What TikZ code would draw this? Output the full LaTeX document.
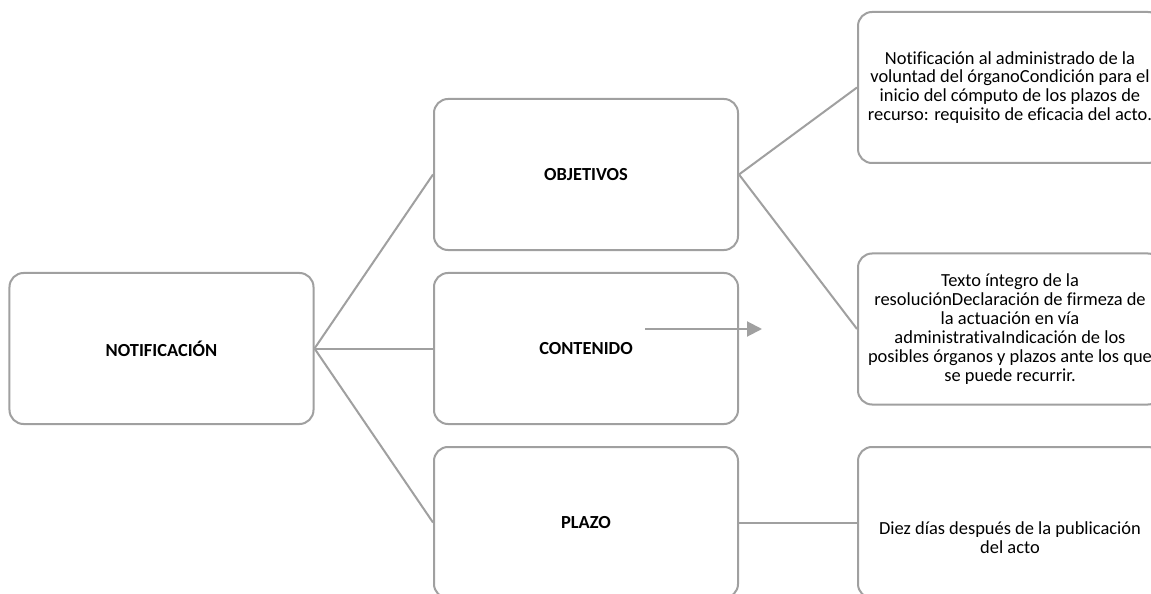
\documentclass[tikz,border=0pt]{standalone}
\usepackage{fontspec}
\setmainfont{Carlito}[Ligatures=NoCommon]
\usetikzlibrary{arrows.meta}
\definecolor{linegray}{RGB}{160,160,160}
\newcommand{\zl}[1]{\makebox[0pt][c]{#1}}
\tikzset{
  box/.style={draw=linegray, line width=2bp, rounded corners=14bp, fill=white,
    minimum width=304bp, minimum height=151bp, inner sep=0pt, align=center,
    font=\fontsize{18.5}{19}\selectfont},
  headbox/.style={box, font=\fontsize{18.5}{19}\selectfont\bfseries},
  boxtext/.style={inner sep=0pt, align=center, font=\fontsize{18.5}{19}\selectfont},
  conn/.style={draw=linegray, line width=2bp},
  arr/.style={draw=linegray, line width=2bp, -{Triangle[length=15bp,width=15bp]}}
}
\begin{document}
\begin{tikzpicture}[x=1bp,y=-1bp]
\useasboundingbox (0,0) rectangle (1151,594);
\clip (0,0) rectangle (1151,594);
\fill[white] (0,0) rectangle (1151,594);
\node[headbox] (notif) at (161.5,348.5) {NOTIFICACIÓN};
\node[headbox] (obj) at (586,174.5) {OBJETIVOS};
\node[headbox] (cont) at (586,348.5) {CONTENIDO};
\node[headbox] (plazo) at (586,522.5) {PLAZO};
\node[box] (r1) at (1010,87.5) {\zl{Notificación al administrado de la}\\\zl{voluntad del órganoCondición para el}\\\zl{inicio del cómputo de los plazos de}\\\zl{recurso: requisito de eficacia del acto.}};
\node[box] (r2) at (1010,329) {\zl{Texto íntegro de la}\\\zl{resoluciónDeclaración de firmeza de}\\\zl{la actuación en vía}\\\zl{administrativaIndicación de los}\\\zl{posibles órganos y plazos ante los que}\\\zl{se puede recurrir.}};
\node[box, label={[boxtext, yshift=-15bp]center:{\zl{Diez días después de la publicación}\\\zl{del acto}}}] (r3) at (1010,522.5) {};
\draw[conn] (notif.east) -- (obj.west);
\draw[conn] (notif.east) -- (cont.west);
\draw[conn] (notif.east) -- (plazo.west);
\draw[conn] (obj.east) -- (r1.west);
\draw[conn] (obj.east) -- (r2.west);
\draw[conn] (plazo.east) -- (r3.west);
\coordinate (a1) at (645,329);
\coordinate (a2) at (762,329);
\draw[arr] (a1) -- (a2);
\end{tikzpicture}
\end{document}
